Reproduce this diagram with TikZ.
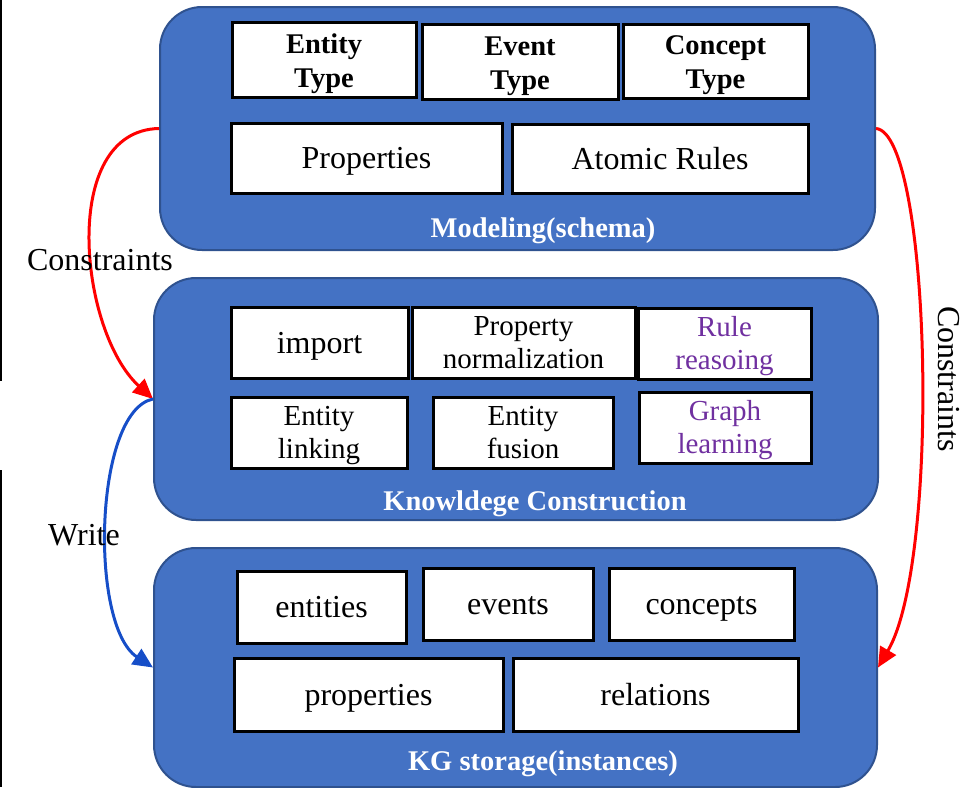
\documentclass[tikz,border=0pt]{standalone}
\usepackage{fontspec}
\setmainfont{Liberation Serif}
\newfontfamily\boxfont{Liberation Serif}
\usetikzlibrary{arrows.meta}
\definecolor{panelfill}{RGB}{68,114,196}
\definecolor{panelline}{RGB}{47,82,143}
\definecolor{learnpurple}{RGB}{112,48,160}
\definecolor{writeblue}{RGB}{22,78,200}
\definecolor{constraintred}{RGB}{255,0,0}
% two centred lines inside one box; the optional rule sets the room above the first line
\newcommand{\twolines}[3][27.9pt]{\begin{tabular}{@{}c@{}}\rule{0pt}{#1}#2\\#3\end{tabular}}

\begin{document}
\begin{tikzpicture}[x=1pt,y=-1pt,
  panel/.style={draw=panelline, line width=2pt, fill=panelfill, rounded corners=42pt, inner sep=0pt},
  item/.style={draw=black, line width=3pt, fill=white, inner sep=0pt,
               font=\boxfont\fontsize{32}{36}\selectfont},
  oneline/.style={text height=28.5pt, text depth=7pt},
  twoline/.style={font=\boxfont\fontsize{29}{33}\selectfont},
  typebox/.style={font=\boxfont\fontsize{28.5}{34}\selectfont\bfseries},
  caption/.style={text=white, inner sep=0pt, anchor=base, font=\boxfont\fontsize{28.5}{34}\selectfont\bfseries},
  flow/.style={line width=3pt, -{Triangle[length=20pt,width=18pt]}},
  sidelabel/.style={inner sep=0pt, font=\boxfont\fontsize{32}{36}\selectfont}
]
\useasboundingbox (0,0) rectangle (965,787);

% thin rules along the left edge
\draw[line width=1.5pt] (1,0) -- (1,381);
\draw[line width=1.5pt] (1,470) -- (1,787);

% three layers
\node[panel, minimum width=715pt, minimum height=243pt] (model) at (517.5,128.5) {};
\node[panel, minimum width=724pt, minimum height=242pt] (construct) at (516,399) {};
\node[panel, minimum width=723pt, minimum height=239pt] (storage) at (515.5,667.5) {};

% schema layer
\node[item, typebox, minimum width=184pt, minimum height=72pt] (etype) at (324,60) {\twolines[30.2pt]{Entity}{Type}};
\node[item, typebox, minimum width=196pt, minimum height=70pt] (evtype) at (520,62) {\twolines[30.2pt]{Event}{Type}};
\node[item, typebox, minimum width=185pt, minimum height=71pt] (ctype) at (715.5,61.5) {\twolines[30.2pt]{Concept}{Type}};
\node[item, oneline, minimum width=271pt, minimum height=70pt] (props) at (366.5,158) {Properties};
\node[item, oneline, minimum width=296pt, minimum height=69pt] (rules) at (660,158.5) {Atomic Rules};
\node[caption] (modelcap) at (543,237) {Modeling(schema)};

% construction layer
\node[item, oneline, minimum width=177pt, minimum height=71pt] (import) at (319.5,342.5) {import};
\node[item, twoline, minimum width=223pt, minimum height=71pt] (norm) at (523.5,342.5) {\twolines{Property}{normalization}};
\node[item, twoline, text=learnpurple, minimum width=173pt, minimum height=71pt] (reason) at (724.5,343.5) {\twolines{Rule}{reasoing}};
\node[item, twoline, minimum width=176pt, minimum height=71pt] (link) at (319,432.5) {\twolines{Entity}{linking}};
\node[item, twoline, minimum width=180pt, minimum height=71pt] (fusion) at (523,432.5) {\twolines{Entity}{fusion}};
\node[item, twoline, text=learnpurple, minimum width=172pt, minimum height=71pt] (glearn) at (725,427.5) {\twolines{Graph}{learning}};
\node[caption] (constructcap) at (535,510) {Knowldege Construction};

% storage layer
\node[item, oneline, minimum width=169pt, minimum height=72pt] (ents) at (321.5,607) {entities};
\node[item, oneline, minimum width=170pt, minimum height=72pt] (evts) at (508,604) {events};
\node[item, oneline, minimum width=185pt, minimum height=72pt] (cons) at (701.5,604) {concepts};
\node[item, oneline, minimum width=269pt, minimum height=73pt] (sprops) at (368.5,694.5) {properties};
\node[item, oneline, minimum width=285pt, minimum height=73pt] (rels) at (655.5,694.5) {relations};
\node[caption] (storagecap) at (543,770) {KG storage(instances)};

% connectors between layers
\draw[flow, draw=constraintred]
  (model.west) .. controls +(-100,2) and +(-74,-68) .. (construct.west);
\draw[flow, draw=writeblue]
  (construct.west) .. controls +(-59,12) and +(-64,-42) .. (storage.west);
\draw[flow, draw=constraintred]
  (model.east) .. controls +(55,5) and +(63,-107) .. (storage.east);

% connector labels
\node[sidelabel, anchor=base] (lconstr) at (100,270) {Constraints};
\node[sidelabel, anchor=base] (lwrite) at (84,545) {Write};
\node[sidelabel, rotate=-90] (rconstr) at (948.5,379) {Constraints};
\end{tikzpicture}
\end{document}
